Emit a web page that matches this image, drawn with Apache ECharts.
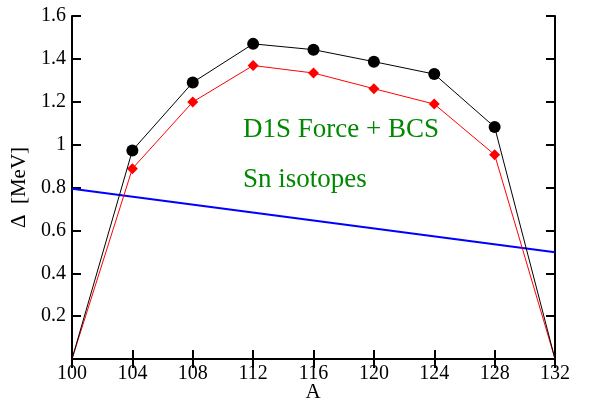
<!DOCTYPE html>
<html><head><meta charset="utf-8">
<script src="https://cdn.jsdelivr.net/npm/echarts@6/dist/echarts.min.js"></script>
<style>html,body{margin:0;padding:0;background:#fff}#c{width:590px;height:401px}</style>
</head><body><div id="c"></div>
<script>
const massNumbers = [100, 104, 108, 112, 116, 120, 124, 128, 132];
const gapBlack = [0, 0.973, 1.29, 1.47, 1.443, 1.387, 1.329, 1.082, 0];
const gapRed = [0, 0.888, 1.199, 1.369, 1.334, 1.261, 1.189, 0.953, 0];
const blueX = [100, 132];
const blueY = [0.794, 0.498];
const xTicks = [100, 104, 108, 112, 116, 120, 124, 128, 132];
const yTicks = [0.2, 0.4, 0.6, 0.8, 1, 1.2, 1.4, 1.6];

const F = 'Liberation Serif';
function pts(xs, ys) {
  return xs.map((x, i) => {
    const item = { value: [x, ys[i]] };
    if (i === 0 || i === xs.length - 1) item.symbol = 'none';
    return item;
  });
}
const axisCommon = {
  type: 'value', min: 100, max: 132, interval: 4,
  axisLine: { show: true, lineStyle: { color: '#000', width: 2 } },
  axisTick: { show: true, inside: true, length: 9, lineStyle: { color: '#000', width: 2 } },
  splitLine: { show: false }
};
const chart = echarts.init(document.getElementById('c'));
chart.setOption({
  animation: false,
  grid: { left: 72, right: 35, top: 16, bottom: 42, containLabel: false, outerBoundsMode: 'none' },
  xAxis: [
    Object.assign({}, axisCommon, {
      position: 'bottom',
      axisLabel: { fontFamily: F, fontSize: 20, color: '#000', margin: 5,
        formatter: v => xTicks.includes(v) ? String(v) : '' }
    }),
    Object.assign({}, axisCommon, { position: 'top', axisLabel: { show: false } })
  ],
  yAxis: [
    Object.assign({}, axisCommon, {
      min: 0, max: 1.6, interval: 0.2, position: 'left',
      name: 'Δ  [MeV]', nameLocation: 'middle', nameGap: 40, nameRotate: 90,
      nameTextStyle: { fontFamily: F, fontSize: 21, color: '#000' },
      axisLabel: { fontFamily: F, fontSize: 20, color: '#000', margin: 6,
        formatter: v => { const r = parseFloat(v.toFixed(1)); return yTicks.includes(r) ? String(r) : ''; } }
    }),
    Object.assign({}, axisCommon, { min: 0, max: 1.6, interval: 0.2, position: 'right', axisLabel: { show: false } })
  ],
  series: [
    { type: 'line', data: blueX.map((x, i) => [x, blueY[i]]), symbol: 'none',
      lineStyle: { color: '#0000ff', width: 2 }, z: 1 },
    { type: 'line', data: pts(massNumbers, gapRed), symbol: 'diamond', symbolSize: 11,
      itemStyle: { color: '#ff0000' }, lineStyle: { color: '#ff0000', width: 1 }, z: 2 },
    { type: 'line', data: pts(massNumbers, gapBlack), symbol: 'circle', symbolSize: 12,
      itemStyle: { color: '#000' }, lineStyle: { color: '#000', width: 1 }, z: 3 }
  ],
  graphic: [
    { type: 'text', x: 313, y: 392, style: { text: 'A', fontFamily: F, fontSize: 21, fill: '#000', align: 'center', verticalAlign: 'middle' } },
    { type: 'text', x: 243, y: 130, style: { text: 'D1S Force + BCS', fontFamily: F, fontSize: 27, fill: '#008800', verticalAlign: 'middle' } },
    { type: 'text', x: 243, y: 180, style: { text: 'Sn isotopes', fontFamily: F, fontSize: 27, fill: '#008800', verticalAlign: 'middle' } }
  ]
});
</script></body></html>
